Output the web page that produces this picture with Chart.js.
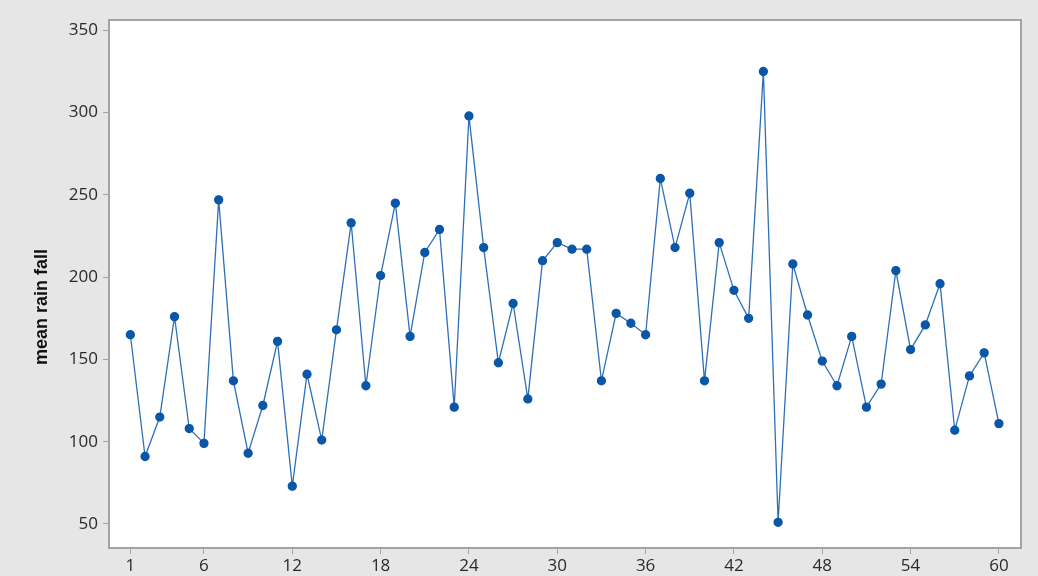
<!DOCTYPE html>
<html lang="en">
<head>
<meta charset="UTF-8">
<title>mean rain fall</title>
<script src="https://cdn.jsdelivr.net/npm/chart.js@4.4.1/dist/chart.umd.min.js"></script>
<style>
  html, body { margin: 0; padding: 0; background: #e6e6e6; }
  #wrap { width: 1038px; height: 576px; position: relative; }
</style>
</head>
<body>
<div id="wrap"><canvas id="rainChart"></canvas></div>
<script>
// index of each observation (1..60)
const periods = Array.from({ length: 60 }, (_, i) => i + 1);

// mean rain fall
const rainfall = [
  165, 91, 115, 176, 108, 99, 247, 137, 93, 122,
  161, 73, 141, 101, 168, 233, 134, 201, 245, 164,
  215, 229, 121, 298, 218, 148, 184, 126, 210, 221,
  217, 217, 137, 178, 172, 165, 260, 218, 251, 137,
  221, 192, 175, 325, 51, 208, 177, 149, 134, 164,
  121, 135, 204, 156, 171, 196, 107, 140, 154, 111
];

const xTicks = [1, 6, 12, 18, 24, 30, 36, 42, 48, 54, 60];
const yTicks = [50, 100, 150, 200, 250, 300, 350];

const yTitle = 'mean rain fall';

// white plot area + grey frame, and the y title
const frame = {
  id: 'frame',
  beforeDraw(chart) {
    const { ctx, chartArea: a } = chart;
    ctx.save();
    ctx.fillStyle = '#ffffff';
    ctx.fillRect(a.left, a.top, a.right - a.left, a.bottom - a.top);
    ctx.restore();
  },
  afterDraw(chart) {
    const { ctx, chartArea: a } = chart;
    ctx.save();
    ctx.strokeStyle = '#a3a3a3';
    ctx.lineWidth = 2;
    ctx.strokeRect(a.left, a.top, a.right - a.left, a.bottom - a.top);
    // y axis title
    ctx.translate(42, 307);
    ctx.rotate(-Math.PI / 2);
    ctx.fillStyle = '#111111';
    ctx.font = 'bold 18px "Liberation Sans", Arial, sans-serif';
    ctx.textAlign = 'center';
    ctx.textBaseline = 'middle';
    ctx.fillText(yTitle, 0, 0);
    ctx.restore();
  }
};

new Chart(document.getElementById('rainChart'), {
  type: 'line',
  data: {
    datasets: [{
      data: periods.map((p, i) => ({ x: p, y: rainfall[i] })),
      borderColor: '#2d6fb8',
      borderWidth: 1.3,
      pointBackgroundColor: '#0a56a8',
      pointBorderColor: '#0a56a8',
      pointRadius: 4,
      pointHoverRadius: 4,
      tension: 0,
      fill: false
    }]
  },
  options: {
    responsive: true,
    maintainAspectRatio: false,
    animation: false,
    layout: { padding: { top: 20, right: 17, left: 0, bottom: 0 } },
    plugins: {
      legend: { display: false },
      tooltip: { enabled: false }
    },
    scales: {
      x: {
        type: 'linear',
        min: -0.45,
        max: 61.5,
        afterBuildTicks: (s) => { s.ticks = xTicks.map(v => ({ value: v })); },
        afterFit: (s) => { s.height = 28; },
        grid: { drawOnChartArea: false, drawTicks: true, tickLength: 6, color: '#a3a3a3' },
        border: { display: false },
        ticks: {
          color: '#2a2a2a',
          padding: 2,
          maxRotation: 0,
          autoSkip: false,
          font: { family: '"Open Sans", sans-serif', size: 17 }
        }
      },
      y: {
        min: 35.4,
        max: 356.3,
        afterBuildTicks: (s) => { s.ticks = yTicks.map(v => ({ value: v })); },
        afterFit: (s) => { s.width = 109; },
        grid: { drawOnChartArea: false, drawTicks: true, tickLength: 6, color: '#a3a3a3' },
        border: { display: false },
        ticks: {
          color: '#2a2a2a',
          padding: 5,
          font: { family: '"Open Sans", sans-serif', size: 17 }
        }
      }
    }
  },
  plugins: [frame]
});
</script>
</body>
</html>
